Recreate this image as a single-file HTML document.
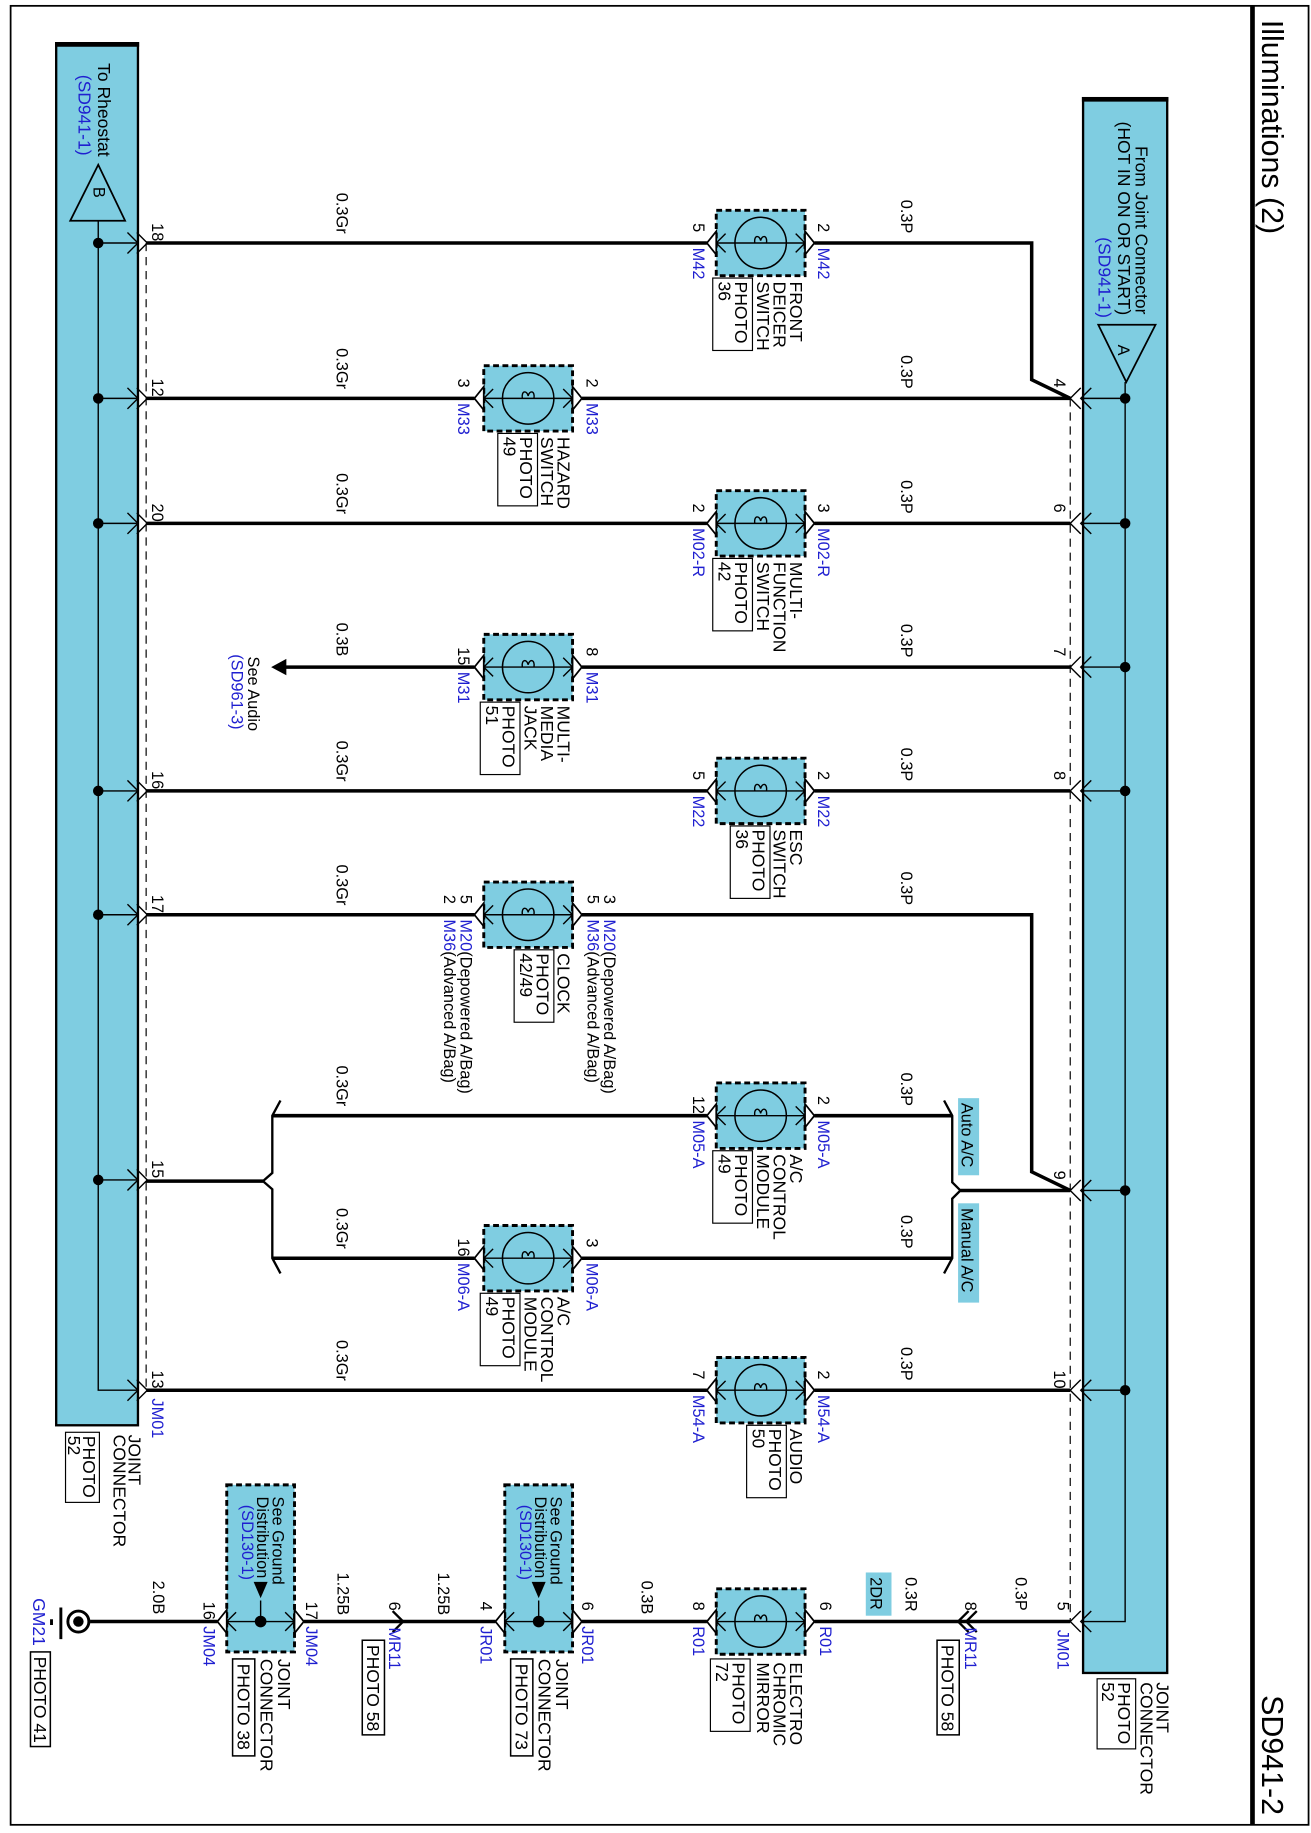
<!DOCTYPE html>
<html><head><meta charset="utf-8"><style>
html,body{margin:0;padding:0;background:#fff}
svg{display:block}
text{font-family:"Liberation Sans",Arial,sans-serif;font-size:14px;fill:#000}
.b{fill:#1f1fd0}
.n{font-size:15px}
.h{font-size:26px}
.f{font-size:15px}
</style></head><body>
<svg width="1311" height="1833" viewBox="0 0 1122 1569" xmlns="http://www.w3.org/2000/svg">
<defs>
<g id="c">
<rect x="-38" y="-28" width="76" height="56" fill="#7fcde1" stroke="#000" stroke-width="2.5" stroke-dasharray="5 3"/>
<circle r="22" fill="none" stroke="#000" stroke-width="1.3"/>
<path d="M-38,0 H38 M-30,-8 L-38,0 L-30,8 M30,-8 L38,0 L30,8" stroke="#000" stroke-width="1.2" fill="none"/>
<path d="M-5,0 C-6,-7 -1,-7 0,-2 C1,-7 6,-7 5,0" fill="none" stroke="#000" stroke-width="1.2"/>
<path d="M-38,-10 L-46,0 L-38,10 Z M38,-10 L46,0 L38,10 Z" fill="#fff" stroke="#000" stroke-width="1.5"/>
</g>
<g id="j">
<rect x="-29" y="-117" width="58" height="143" fill="#7fcde1" stroke="#000" stroke-width="2.5" stroke-dasharray="5 3"/>
<path d="M-29,0 H29 M-21,-8 L-29,0 L-21,8 M21,-8 L29,0 L21,8 M0,0 V-18" stroke="#000" stroke-width="1.2" fill="none"/>
<path d="M-6,-34 L6,-34 L0,-20 Z" fill="#000"/>
<circle r="5" fill="#000"/>
<path d="M-29,-10 L-37,0 L-29,10 Z M29,-10 L37,0 L29,10 Z" fill="#fff" stroke="#000" stroke-width="1.5"/>
</g>
<path id="lp" d="M109,-9 L118,0 L109,9 M117,-9 L126,0 L117,9" fill="none" stroke="#000" stroke-width="1.2"/>
<path id="rp" d="M934,-9 L925,0 L934,9 M925,-9 L916,0 L925,9" fill="none" stroke="#000" stroke-width="1.2"/>
</defs>

<rect x="9" y="5" width="1111" height="1557" fill="none" stroke="#000" stroke-width="1.5"/>
<line x1="1072" y1="5" x2="1072" y2="1562" stroke="#000" stroke-width="4"/>
<text class="h" transform="translate(1080 17) rotate(90)">Illuminations (2)</text>
<text class="h" transform="translate(1080 1451) rotate(90)">SD941-2</text>

<rect x="48" y="37" width="70" height="1183" fill="#7fcde1" stroke="#000" stroke-width="2"/>
<line x1="47" y1="38" x2="119" y2="38" stroke="#000" stroke-width="4"/>
<path d="M84,141 L60,189 L107,189 Z" fill="none" stroke="#000" stroke-width="1.5"/>
<text transform="translate(80 160) rotate(90)">B</text>
<text class="f" transform="translate(84 54) rotate(90)">To Rheostat</text>
<text class="b f" transform="translate(67 64) rotate(90)">(SD941-1)</text>
<path d="M84,189 V1190 H117" fill="none" stroke="#000" stroke-width="1.2"/>
<g fill="#000"><circle cx="84" cy="208" r="4.5"/><circle cx="84" cy="341" r="4.5"/><circle cx="84" cy="448" r="4.5"/><circle cx="84" cy="677" r="4.5"/><circle cx="84" cy="783" r="4.5"/><circle cx="84" cy="1010" r="4.5"/></g>
<path d="M84,208H117M84,341H117M84,448H117M84,677H117M84,783H117M84,1010H117" stroke="#000" stroke-width="1.2"/>
<use href="#lp" y="208"/><use href="#lp" y="341"/><use href="#lp" y="448"/><use href="#lp" y="677"/><use href="#lp" y="783"/><use href="#lp" y="1010"/><use href="#lp" y="1190"/>
<line x1="125" y1="208" x2="125" y2="1190" stroke="#000" stroke-width="1" stroke-dasharray="7 5"/>
<text class="n" transform="translate(110 1228) rotate(90)">JOINT</text>
<text class="n" transform="translate(97 1228) rotate(90)">CONNECTOR</text>
<rect x="56" y="1226" width="29" height="60" fill="none" stroke="#000"/>
<text class="n" transform="translate(71 1229) rotate(90)">PHOTO</text>
<text class="n" transform="translate(58 1229) rotate(90)">52</text>
<text class="b" transform="translate(130 1197) rotate(90)">JM01</text>

<rect x="927" y="84" width="72" height="1348" fill="#7fcde1" stroke="#000" stroke-width="2"/>
<line x1="926" y1="85" x2="1000" y2="85" stroke="#000" stroke-width="4"/>
<path d="M940,278 L989,278 L964,327 Z" fill="none" stroke="#000" stroke-width="1.5"/>
<text transform="translate(957 295) rotate(90)">A</text>
<text class="f" transform="translate(972 125) rotate(90)">From Joint Connector</text>
<text class="f" transform="translate(957 104) rotate(90)">(HOT IN ON OR START)</text>
<text class="b f" transform="translate(940 203) rotate(90)">(SD941-1)</text>
<path d="M963,327 V1388 H926" fill="none" stroke="#000" stroke-width="1.2"/>
<g fill="#000"><circle cx="963" cy="341" r="4.5"/><circle cx="963" cy="448" r="4.5"/><circle cx="963" cy="571" r="4.5"/><circle cx="963" cy="677" r="4.5"/><circle cx="963" cy="1019" r="4.5"/><circle cx="963" cy="1190" r="4.5"/></g>
<path d="M926,341H963M926,448H963M926,571H963M926,677H963M926,1019H963M926,1190H963" stroke="#000" stroke-width="1.2"/>
<use href="#rp" y="341"/><use href="#rp" y="448"/><use href="#rp" y="571"/><use href="#rp" y="677"/><use href="#rp" y="1019"/><use href="#rp" y="1190"/><use href="#rp" y="1388"/>
<line x1="916" y1="341" x2="916" y2="1388" stroke="#000" stroke-width="1" stroke-dasharray="7 5"/>
<text class="n" transform="translate(990 1440) rotate(90)">JOINT</text>
<text class="n" transform="translate(976 1440) rotate(90)">CONNECTOR</text>
<rect x="939" y="1437" width="33" height="60" fill="none" stroke="#000"/>
<text class="n" transform="translate(957 1440) rotate(90)">PHOTO</text>
<text class="n" transform="translate(943 1440) rotate(90)">52</text>

<g stroke="#000" stroke-width="3" fill="none">
<path d="M125,208 H605 M697,208 H883 V325 L916,341"/>
<path d="M125,341 H406 M498,341 H916"/>
<path d="M125,448 H605 M697,448 H916"/>
<path d="M242,571 H406 M498,571 H916"/>
<path d="M125,677 H605 M697,677 H916"/>
<path d="M125,783 H406 M498,783 H883 V1003 L916,1019"/>
<path d="M233,955 H605 M697,955 H815"/>
<path d="M233,1077 H406 M498,1077 H815"/>
<path d="M125,1190 H605 M697,1190 H916"/>
<path d="M125,1011 H225"/>
<path d="M822,1019 H916"/>
<path d="M77,1388 H186 M260,1388 H424 M498,1388 H605 M697,1388 H916"/>
</g>
<g stroke="#000" stroke-width="2" fill="none">
<path d="M240,942 L233,955 V1004 L225,1011 L233,1018 V1077 L240,1090"/>
<path d="M808,942 L815,955 V1012 L822,1019 L815,1026 V1077 L808,1090"/>
<path d="M336,1379 L345,1388 L336,1397"/>
<path d="M829,1379 L820,1388 L829,1397 M836,1379 L827,1388 L836,1397"/>
</g>
<path d="M232,571 L245,564 L245,578 Z" fill="#000"/>
<text transform="translate(212 562) rotate(90)">See Audio</text>
<text class="b" transform="translate(198 560) rotate(90)">(SD961-3)</text>

<rect x="820" y="940" width="18" height="66" fill="#7fcde1"/>
<text transform="translate(823 944) rotate(90)">Auto A/C</text>
<rect x="820" y="1030" width="18" height="85" fill="#7fcde1"/>
<text transform="translate(823 1034) rotate(90)">Manual A/C</text>
<rect x="741" y="1346" width="22" height="37" fill="#7fcde1"/>
<text transform="translate(745 1350) rotate(90)">2DR</text>

<g>
<text transform="translate(130 191) rotate(90)">18</text>
<text transform="translate(130 324) rotate(90)">12</text>
<text transform="translate(130 431) rotate(90)">20</text>
<text transform="translate(130 660) rotate(90)">16</text>
<text transform="translate(130 766) rotate(90)">17</text>
<text transform="translate(130 993) rotate(90)">15</text>
<text transform="translate(130 1173) rotate(90)">13</text>
<text transform="translate(902 324) rotate(90)">4</text>
<text transform="translate(902 431) rotate(90)">6</text>
<text transform="translate(902 554) rotate(90)">7</text>
<text transform="translate(902 660) rotate(90)">8</text>
<text transform="translate(902 1002) rotate(90)">9</text>
<text transform="translate(902 1173) rotate(90)">10</text>
</g>
<g>
<text transform="translate(288 165) rotate(90)">0.3Gr</text>
<text transform="translate(288 298) rotate(90)">0.3Gr</text>
<text transform="translate(288 405) rotate(90)">0.3Gr</text>
<text transform="translate(288 533) rotate(90)">0.3B</text>
<text transform="translate(288 634) rotate(90)">0.3Gr</text>
<text transform="translate(288 740) rotate(90)">0.3Gr</text>
<text transform="translate(288 912) rotate(90)">0.3Gr</text>
<text transform="translate(288 1034) rotate(90)">0.3Gr</text>
<text transform="translate(288 1147) rotate(90)">0.3Gr</text>
<text transform="translate(771 171) rotate(90)">0.3P</text>
<text transform="translate(771 304) rotate(90)">0.3P</text>
<text transform="translate(771 411) rotate(90)">0.3P</text>
<text transform="translate(771 534) rotate(90)">0.3P</text>
<text transform="translate(771 640) rotate(90)">0.3P</text>
<text transform="translate(771 746) rotate(90)">0.3P</text>
<text transform="translate(771 918) rotate(90)">0.3P</text>
<text transform="translate(771 1040) rotate(90)">0.3P</text>
<text transform="translate(771 1153) rotate(90)">0.3P</text>
</g>

<use href="#c" x="651" y="208"/>
<text transform="translate(593 191) rotate(90)">5</text><text class="b" transform="translate(593 212) rotate(90)">M42</text>
<text transform="translate(700 191) rotate(90)">2</text><text class="b" transform="translate(700 212) rotate(90)">M42</text>
<text class="n" transform="translate(676 241) rotate(90)">FRONT</text>
<text class="n" transform="translate(662 241) rotate(90)">DEICER</text>
<text class="n" transform="translate(648 241) rotate(90)">SWITCH</text>
<rect x="610" y="238" width="34" height="62" fill="none" stroke="#000"/>
<text class="n" transform="translate(629 241) rotate(90)">PHOTO</text>
<text class="n" transform="translate(615 241) rotate(90)">36</text>

<use href="#c" x="452" y="341"/>
<text transform="translate(392 324) rotate(90)">3</text><text class="b" transform="translate(392 345) rotate(90)">M33</text>
<text transform="translate(502 324) rotate(90)">2</text><text class="b" transform="translate(502 345) rotate(90)">M33</text>
<text class="n" transform="translate(477 374) rotate(90)">HAZARD</text>
<text class="n" transform="translate(463 374) rotate(90)">SWITCH</text>
<rect x="426" y="371" width="34" height="62" fill="none" stroke="#000"/>
<text class="n" transform="translate(445 374) rotate(90)">PHOTO</text>
<text class="n" transform="translate(431 374) rotate(90)">49</text>

<use href="#c" x="651" y="448"/>
<text transform="translate(593 431) rotate(90)">2</text><text class="b" transform="translate(593 452) rotate(90)">M02-R</text>
<text transform="translate(700 431) rotate(90)">3</text><text class="b" transform="translate(700 452) rotate(90)">M02-R</text>
<text class="n" transform="translate(676 481) rotate(90)">MULTI-</text>
<text class="n" transform="translate(662 481) rotate(90)">FUNCTION</text>
<text class="n" transform="translate(648 481) rotate(90)">SWITCH</text>
<rect x="610" y="478" width="34" height="62" fill="none" stroke="#000"/>
<text class="n" transform="translate(629 481) rotate(90)">PHOTO</text>
<text class="n" transform="translate(615 481) rotate(90)">42</text>

<use href="#c" x="452" y="571"/>
<text transform="translate(392 554) rotate(90)">15</text><text class="b" transform="translate(392 575) rotate(90)">M31</text>
<text transform="translate(502 554) rotate(90)">8</text><text class="b" transform="translate(502 575) rotate(90)">M31</text>
<text class="n" transform="translate(477 604) rotate(90)">MULTI-</text>
<text class="n" transform="translate(463 604) rotate(90)">MEDIA</text>
<text class="n" transform="translate(449 604) rotate(90)">JACK</text>
<rect x="411" y="601" width="34" height="62" fill="none" stroke="#000"/>
<text class="n" transform="translate(430 604) rotate(90)">PHOTO</text>
<text class="n" transform="translate(416 604) rotate(90)">51</text>

<use href="#c" x="651" y="677"/>
<text transform="translate(593 660) rotate(90)">5</text><text class="b" transform="translate(593 681) rotate(90)">M22</text>
<text transform="translate(700 660) rotate(90)">2</text><text class="b" transform="translate(700 681) rotate(90)">M22</text>
<text class="n" transform="translate(676 710) rotate(90)">ESC</text>
<text class="n" transform="translate(662 710) rotate(90)">SWITCH</text>
<rect x="625" y="707" width="34" height="62" fill="none" stroke="#000"/>
<text class="n" transform="translate(644 710) rotate(90)">PHOTO</text>
<text class="n" transform="translate(630 710) rotate(90)">36</text>

<use href="#c" x="452" y="783"/>
<text transform="translate(394 766) rotate(90)">5</text>
<text transform="translate(380 766) rotate(90)">2</text>
<text transform="translate(394 787) rotate(90)"><tspan class="b">M20</tspan>(Depowered A/Bag)</text>
<text transform="translate(380 787) rotate(90)"><tspan class="b">M36</tspan>(Advanced A/Bag)</text>
<text transform="translate(517 766) rotate(90)">3</text>
<text transform="translate(503 766) rotate(90)">5</text>
<text transform="translate(517 787) rotate(90)"><tspan class="b">M20</tspan>(Depowered A/Bag)</text>
<text transform="translate(503 787) rotate(90)"><tspan class="b">M36</tspan>(Advanced A/Bag)</text>
<text class="n" transform="translate(477 816) rotate(90)">CLOCK</text>
<rect x="440" y="813" width="34" height="62" fill="none" stroke="#000"/>
<text class="n" transform="translate(459 816) rotate(90)">PHOTO</text>
<text class="n" transform="translate(445 816) rotate(90)">42/49</text>

<use href="#c" x="651" y="955"/>
<text transform="translate(593 938) rotate(90)">12</text><text class="b" transform="translate(593 959) rotate(90)">M05-A</text>
<text transform="translate(700 938) rotate(90)">2</text><text class="b" transform="translate(700 959) rotate(90)">M05-A</text>
<text class="n" transform="translate(676 988) rotate(90)">A/C</text>
<text class="n" transform="translate(662 988) rotate(90)">CONTROL</text>
<text class="n" transform="translate(648 988) rotate(90)">MODULE</text>
<rect x="610" y="985" width="34" height="62" fill="none" stroke="#000"/>
<text class="n" transform="translate(629 988) rotate(90)">PHOTO</text>
<text class="n" transform="translate(615 988) rotate(90)">49</text>

<use href="#c" x="452" y="1077"/>
<text transform="translate(392 1060) rotate(90)">16</text><text class="b" transform="translate(392 1081) rotate(90)">M06-A</text>
<text transform="translate(502 1060) rotate(90)">3</text><text class="b" transform="translate(502 1081) rotate(90)">M06-A</text>
<text class="n" transform="translate(477 1110) rotate(90)">A/C</text>
<text class="n" transform="translate(463 1110) rotate(90)">CONTROL</text>
<text class="n" transform="translate(449 1110) rotate(90)">MODULE</text>
<rect x="411" y="1107" width="34" height="62" fill="none" stroke="#000"/>
<text class="n" transform="translate(430 1110) rotate(90)">PHOTO</text>
<text class="n" transform="translate(416 1110) rotate(90)">49</text>

<use href="#c" x="651" y="1190"/>
<text transform="translate(593 1173) rotate(90)">7</text><text class="b" transform="translate(593 1194) rotate(90)">M54-A</text>
<text transform="translate(700 1173) rotate(90)">2</text><text class="b" transform="translate(700 1194) rotate(90)">M54-A</text>
<text class="n" transform="translate(676 1223) rotate(90)">AUDIO</text>
<rect x="639" y="1220" width="34" height="62" fill="none" stroke="#000"/>
<text class="n" transform="translate(658 1223) rotate(90)">PHOTO</text>
<text class="n" transform="translate(644 1223) rotate(90)">50</text>

<use href="#c" x="651" y="1388"/>
<text transform="translate(593 1371) rotate(90)">8</text><text class="b" transform="translate(593 1392) rotate(90)">R01</text>
<text transform="translate(702 1371) rotate(90)">6</text><text class="b" transform="translate(702 1392) rotate(90)">R01</text>
<text class="n" transform="translate(676 1423) rotate(90)">ELECTRO</text>
<text class="n" transform="translate(662 1423) rotate(90)">CHROMIC</text>
<text class="n" transform="translate(648 1423) rotate(90)">MIRROR</text>
<rect x="608" y="1420" width="34" height="62" fill="none" stroke="#000"/>
<text class="n" transform="translate(627 1423) rotate(90)">PHOTO</text>
<text class="n" transform="translate(613 1423) rotate(90)">72</text>

<path d="M52,1376 V1403 M44,1386 V1391" stroke="#000" stroke-width="2.5"/>
<circle cx="67" cy="1388" r="9" fill="#fff" stroke="#000" stroke-width="2.5"/>
<circle cx="67" cy="1388" r="4.5" fill="#000"/>
<text class="b f" transform="translate(28 1368) rotate(90)">GM21</text>
<rect x="26" y="1414" width="17" height="81" fill="none" stroke="#000" stroke-width="1.3"/>
<text class="f" transform="translate(29 1418) rotate(90)">PHOTO 41</text>
<text transform="translate(131 1353) rotate(90)">2.0B</text>

<use href="#j" x="223" y="1388"/>
<text transform="translate(174 1371) rotate(90)">16</text><text class="b" transform="translate(174 1392) rotate(90)">JM04</text>
<text transform="translate(262 1371) rotate(90)">17</text><text class="b" transform="translate(262 1392) rotate(90)">JM04</text>
<text transform="translate(233 1281) rotate(90)">See Ground</text>
<text transform="translate(220 1281) rotate(90)">Distribution</text>
<text class="b" transform="translate(207 1288) rotate(90)">(SD130-1)</text>
<text class="n" transform="translate(238 1420) rotate(90)">JOINT</text>
<text class="n" transform="translate(223 1420) rotate(90)">CONNECTOR</text>
<rect x="199" y="1420" width="19" height="83" fill="none" stroke="#000" stroke-width="1.3"/>
<text class="n" transform="translate(203 1424) rotate(90)">PHOTO 38</text>

<text transform="translate(289 1346) rotate(90)">1.25B</text>
<text transform="translate(333 1371) rotate(90)">6</text><text class="b" transform="translate(333 1393) rotate(90)">MR11</text>
<rect x="310" y="1404" width="19" height="81" fill="none" stroke="#000" stroke-width="1.3"/>
<text class="n" transform="translate(314 1408) rotate(90)">PHOTO 58</text>
<text transform="translate(375 1346) rotate(90)">1.25B</text>

<use href="#j" x="461" y="1388"/>
<text transform="translate(411 1371) rotate(90)">4</text><text class="b" transform="translate(411 1392) rotate(90)">JR01</text>
<text transform="translate(498 1371) rotate(90)">6</text><text class="b" transform="translate(498 1392) rotate(90)">JR01</text>
<text transform="translate(471 1281) rotate(90)">See Ground</text>
<text transform="translate(458 1281) rotate(90)">Distribution</text>
<text class="b" transform="translate(445 1288) rotate(90)">(SD130-1)</text>
<text class="n" transform="translate(476 1420) rotate(90)">JOINT</text>
<text class="n" transform="translate(461 1420) rotate(90)">CONNECTOR</text>
<rect x="437" y="1420" width="19" height="83" fill="none" stroke="#000" stroke-width="1.3"/>
<text class="n" transform="translate(441 1424) rotate(90)">PHOTO 73</text>

<text transform="translate(549 1353) rotate(90)">0.3B</text>
<text transform="translate(775 1350) rotate(90)">0.3R</text>
<text transform="translate(826 1371) rotate(90)">8</text><text class="b" transform="translate(826 1393) rotate(90)">MR11</text>
<rect x="802" y="1404" width="19" height="81" fill="none" stroke="#000" stroke-width="1.3"/>
<text class="n" transform="translate(806 1408) rotate(90)">PHOTO 58</text>
<text transform="translate(869 1350) rotate(90)">0.3P</text>
<text transform="translate(905 1371) rotate(90)">5</text><text class="b" transform="translate(905 1395) rotate(90)">JM01</text>
</svg>
</body></html>
